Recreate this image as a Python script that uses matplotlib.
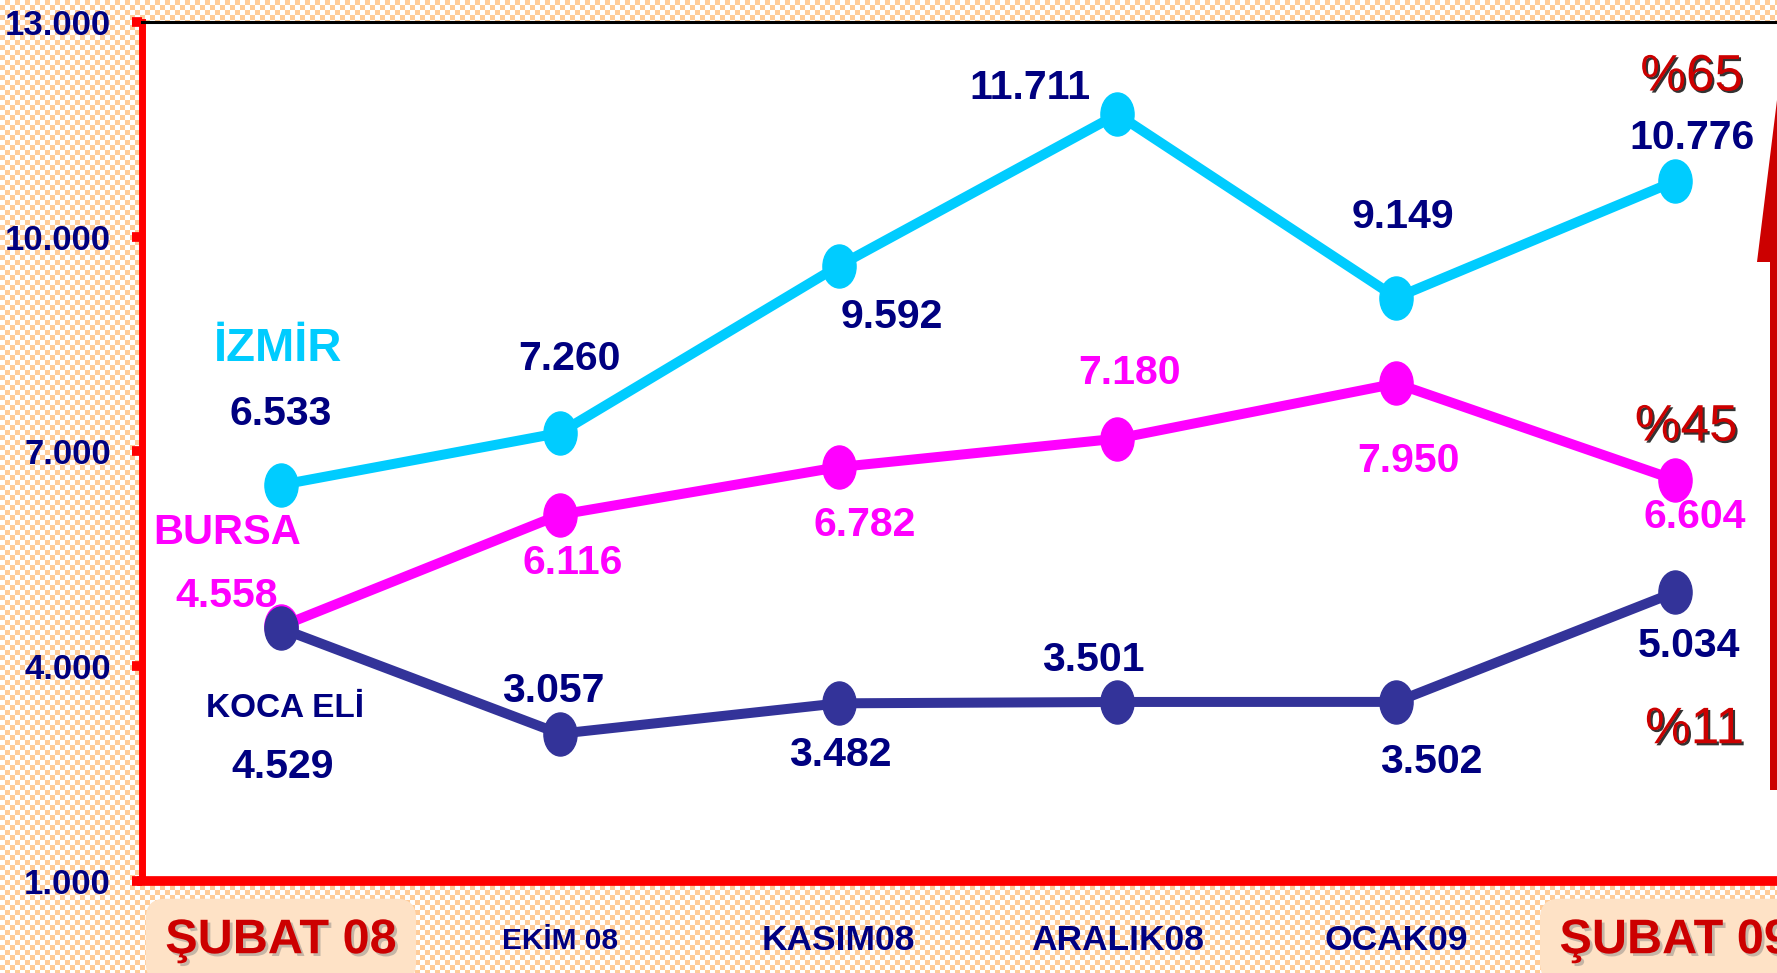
import numpy as np
import matplotlib
matplotlib.use("Agg")
import matplotlib.pyplot as plt
import matplotlib.patheffects as pe
from matplotlib.path import Path
from matplotlib.transforms import Affine2D
from matplotlib.patches import Polygon, Rectangle

# data
months = ["ŞUBAT 08", "EKİM 08", "KASIM08", "ARALIK08", "OCAK09", "ŞUBAT 09"]
izmir = [6533, 7260, 9592, 11711, 9149, 10776]
bursa = [4558, 6116, 6782, 7180, 7950, 6604]
kocaeli = [4529, 3057, 3482, 3501, 3502, 5034]
yticks = [1000, 4000, 7000, 10000, 13000]

# label offsets (points) from each marker
izmir_off = [(0, 51), (7, 53), (38, -37), (-63, 19), (5, 58), (12, 31)]
bursa_off = [(-39, 22), (9, -35), (19, -42), (9, 47), (9, -56), (14, -27)]
kocaeli_off = [(1, -100), (-5, 31), (1, -37), (-17, 30), (25, -43), (10, -39)]

NAVY = "#000080"
CYAN = "#00CCFF"
MAG = "#FF00FF"
KOC = "#333399"
DRED = "#CC0000"
ARIAL = ["Liberation Sans", "DejaVu Sans"]

W, H = 1777, 973
fig = plt.figure(figsize=(W / 100, H / 100), dpi=100)

# checkered peach background
bg = fig.add_axes([0, 0, 1, 1], zorder=-10)
yy, xx = np.indices((H, W))
chk = ((yy // 5 + xx // 5) % 2).astype(bool)
img = np.ones((H, W, 3))
img[chk] = np.array([255, 204, 153]) / 255
bg.imshow(img, extent=(0, W, 0, H), aspect="auto", interpolation="nearest")
bg.set_axis_off()

ax = fig.add_axes([141.5 / W, 92 / H, 1673 / W, 859 / H])
ax.set_facecolor("white")

x = np.arange(len(months))
ell = Path.unit_circle().transformed(Affine2D().scale(0.77, 1.0))

for vals, col in [(izmir, CYAN), (bursa, MAG), (kocaeli, KOC)]:
    ax.plot(x, vals, color=col, lw=7.2, marker=ell, ms=31, mfc=col, mec=col,
            solid_capstyle="round", zorder=3, clip_on=False)

def fmt(v):
    return f"{v:,}".replace(",", ".")

for vals, offs, col in [(izmir, izmir_off, NAVY), (bursa, bursa_off, MAG),
                        (kocaeli, kocaeli_off, NAVY)]:
    for i, v in enumerate(vals):
        ax.annotate(fmt(v), (x[i], v), xytext=offs[i], textcoords="offset points",
                    ha="center", va="center", color=col, fontsize=29.5,
                    fontweight="bold", family=ARIAL, zorder=5, annotation_clip=False)

# series names
ax.annotate("İZMİR", (x[0], izmir[0]), xytext=(-2, 98), textcoords="offset points",
            ha="center", va="center", color=CYAN, fontsize=34, fontweight="bold",
            family=ARIAL)
ax.annotate("BURSA", (x[0], bursa[0]), xytext=(-39, 67), textcoords="offset points",
            ha="center", va="center", color=MAG, fontsize=30, fontweight="bold",
            family=ARIAL)
ax.annotate("KOCA ELİ", (x[0], kocaeli[0]), xytext=(3, -58), textcoords="offset points",
            ha="center", va="center", color=NAVY, fontsize=24, fontweight="bold",
            family=ARIAL)

# growth percentages Şubat 08 -> Şubat 09
shadow = [pe.withSimplePatchShadow(offset=(1.5, -1.5), shadow_rgbFace="black", alpha=0.8)]
for vals, off in [(izmir, (12, 75)), (bursa, (8, 38)), (kocaeli, (14, -99))]:
    pct = round((vals[-1] / vals[0] - 1) * 100)
    ax.annotate(f"%{pct}", (x[-1], vals[-1]), xytext=off, textcoords="offset points",
                ha="center", va="center", color=DRED, fontsize=37, family=ARIAL,
                path_effects=shadow, annotation_clip=False)

ax.set_xlim(-0.5, len(months) - 0.5)
ax.set_ylim(1000, 13000)
ax.set_yticks(yticks, [fmt(v) for v in yticks])
ax.set_xticks(x, months)
ax.set_xticks(np.arange(-0.5, len(months), 1.0), minor=True)

ax.tick_params(axis="y", colors="red", width=7, length=7, direction="out", pad=15,
               labelcolor=NAVY, labelsize=25)
ax.tick_params(axis="x", which="both", colors="red", width=3, length=3, pad=40)
for lbl in ax.get_yticklabels():
    lbl.set_fontweight("bold")
    lbl.set_family(ARIAL)

gshadow = [pe.withSimplePatchShadow(offset=(2, -2), shadow_rgbFace="gray", alpha=0.45)]
for i, lbl in enumerate(ax.get_xticklabels()):
    lbl.set_va("center")
    lbl.set_fontweight("bold")
    lbl.set_family(ARIAL)
    if months[i].startswith("ŞUBAT"):
        lbl.set_color(DRED)
        lbl.set_fontsize(35)
        lbl.set_path_effects(gshadow)
        lbl.set_bbox(dict(boxstyle="round,pad=0.4,rounding_size=0.4",
                          fc="#FEE2C6", ec="none"))
    elif i == 1:
        lbl.set_color(NAVY)
        lbl.set_fontsize(21.5)
    else:
        lbl.set_color(NAVY)
        lbl.set_fontsize(25.5)

for s in ["left", "bottom"]:
    ax.spines[s].set_color("red")
ax.spines["left"].set_linewidth(5)
ax.spines["bottom"].set_linewidth(7)
ax.spines["top"].set_color("black")
ax.spines["top"].set_linewidth(2.2)
ax.spines["right"].set_visible(False)

# red arrow cut by the right edge
fig.patches.append(Polygon([(1757 / W, 1 - 262 / H), (1777 / W, 1 - 100 / H),
                            (1800 / W, 1 - 262 / H)], closed=True, fc=DRED, ec="none",
                           transform=fig.transFigure, zorder=4))
fig.patches.append(Rectangle((1770 / W, 1 - 790 / H), 40 / W, (790 - 262) / H,
                             fc=DRED, ec="none", transform=fig.transFigure, zorder=4))

fig.savefig("out.png", dpi=100)
